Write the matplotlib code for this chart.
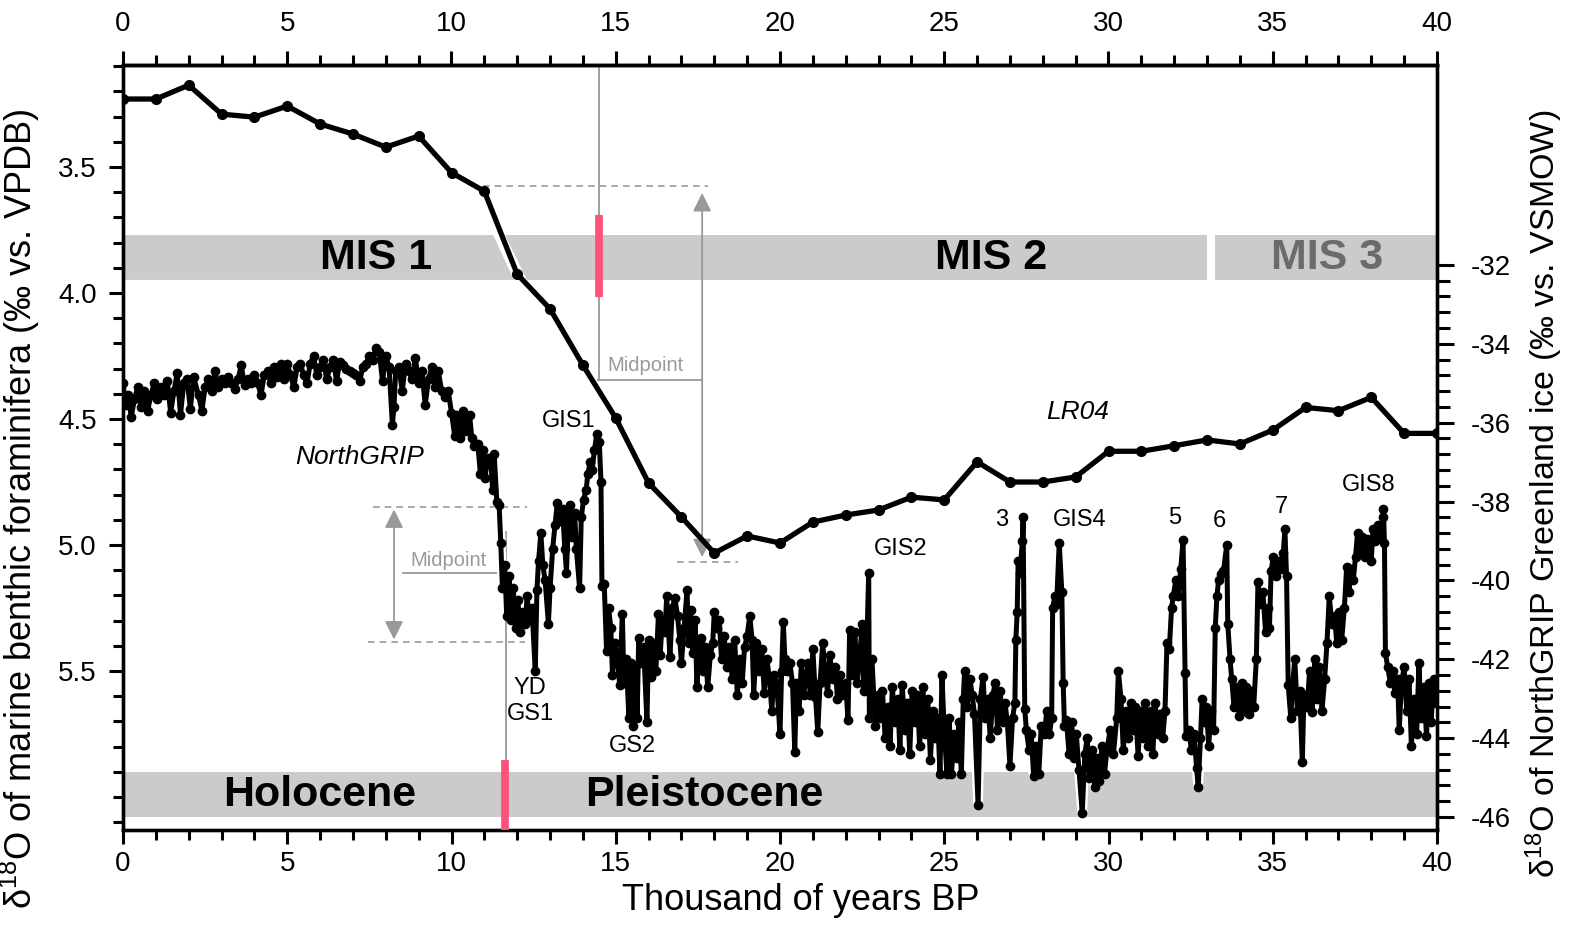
import numpy as np
import matplotlib
matplotlib.use("Agg")
import matplotlib.pyplot as plt
from matplotlib.ticker import FixedLocator
from matplotlib.patches import Polygon, Rectangle

plt.rcParams['font.family'] = ['Liberation Sans', 'DejaVu Sans']
plt.rcParams['mathtext.fontset'] = 'custom'
plt.rcParams['mathtext.rm'] = 'Liberation Sans'
plt.rcParams['mathtext.it'] = 'Liberation Sans:italic'

# ---------------- data ----------------
lr04_age = list(range(0, 41))
lr04_d18o = [3.230, 3.230, 3.175, 3.290, 3.302, 3.258, 3.329, 3.369, 3.421, 3.377,
             3.522, 3.596, 3.925, 4.063, 4.286, 4.496, 4.754, 4.889, 5.032, 4.964,
             4.992, 4.909, 4.881, 4.861, 4.810, 4.821, 4.670, 4.750, 4.750, 4.730,
             4.628, 4.628, 4.606, 4.583, 4.599, 4.544, 4.454, 4.467, 4.414, 4.557,
             4.557]

ngrip_age = [
    0.00, 0.08, 0.16, 0.25, 0.35, 0.45, 0.55, 0.65, 0.75, 0.85, 0.95, 1.05, 1.15, 1.25,
    1.35, 1.45, 1.55, 1.65, 1.75, 1.85, 1.95, 2.05, 2.15, 2.30, 2.40, 2.50, 2.60, 2.70,
    2.80, 2.90, 3.00, 3.10, 3.20, 3.30, 3.40, 3.50, 3.60, 3.70, 3.80, 3.90, 4.00, 4.10,
    4.20, 4.30, 4.40, 4.50, 4.60, 4.70, 4.80, 4.90, 5.00, 5.10, 5.20, 5.30, 5.40, 5.50,
    5.60, 5.70, 5.80, 5.90, 6.00, 6.10, 6.20, 6.30, 6.40, 6.50, 6.60, 6.70, 6.80, 6.90,
    7.00, 7.10, 7.20, 7.30, 7.40, 7.50, 7.60, 7.70, 7.80, 7.90, 8.00, 8.10, 8.20, 8.25,
    8.30, 8.40, 8.50, 8.60, 8.70, 8.80, 8.90, 9.00, 9.10, 9.20, 9.30, 9.40, 9.50, 9.60,
    9.70, 9.80, 9.90, 10.00, 10.10,
    10.15, 10.25, 10.35, 10.45, 10.55, 10.62, 10.70, 10.80, 10.88, 10.95, 11.02, 11.10,
    11.20, 11.25, 11.30, 11.38, 11.45, 11.50, 11.55, 11.62, 11.68, 11.75, 11.82, 11.88,
    11.95, 12.02, 12.10, 12.18, 12.25, 12.30, 12.38, 12.45, 12.55, 12.60, 12.65, 12.72,
    12.78, 12.85, 12.95, 13.00, 13.08, 13.15, 13.22, 13.30, 13.38, 13.45, 13.50, 13.56,
    13.62, 13.68, 13.75, 13.80, 13.90, 13.95, 14.02, 14.10, 14.15, 14.22, 14.28, 14.35,
    14.42, 14.50, 14.55, 14.58, 14.65, 14.72, 14.78, 14.85, 14.90, 14.98, 15.05, 15.12,
    15.20, 15.25, 15.32, 15.40, 15.45, 15.52, 15.60, 15.65, 15.70, 15.78, 15.85, 15.95,
    16.00, 16.08, 16.15, 16.22, 16.30, 16.35, 16.42, 16.50, 16.55, 16.60, 16.65, 16.72,
    16.80, 16.88, 16.95, 17.00, 17.08, 17.17, 17.22, 17.28, 17.35, 17.42, 17.47, 17.55,
    17.60, 17.65, 17.72, 17.80, 17.88, 17.95, 18.00, 18.08, 18.15, 18.22, 18.30, 18.38,
    18.45, 18.55, 18.62, 18.70, 18.78, 18.85, 18.92, 19.00, 19.08, 19.15, 19.20, 19.28,
    19.35, 19.45, 19.52, 19.60, 19.68, 19.75, 19.82, 19.90, 20.00, 20.05, 20.10, 20.15,
    20.22, 20.30, 20.38, 20.45, 20.50, 20.58, 20.65, 20.72, 20.80, 20.85, 20.92, 21.00,
    21.08, 21.15, 21.22, 21.30, 21.38, 21.45, 21.52, 21.60, 21.68, 21.75, 21.82, 21.90,
    22.00, 22.07, 22.12, 22.20, 22.28, 22.35, 22.42, 22.50, 22.55, 22.62, 22.70, 22.72,
    22.80, 22.90, 22.98, 23.05, 23.12, 23.20, 23.28, 23.35, 23.42, 23.50, 23.58, 23.65,
    23.72, 23.80, 23.88, 23.95, 24.02, 24.10, 24.18, 24.25, 24.35, 24.42, 24.50, 24.58,
    24.65, 24.72, 24.80, 24.87, 24.93, 25.00, 25.08, 25.15, 25.22, 25.30, 25.38, 25.45,
    25.52, 25.58, 25.62, 25.70, 25.78, 25.85, 25.92, 26.03, 26.10, 26.18, 26.25, 26.32,
    26.40, 26.48, 26.55, 26.62, 26.70, 26.78, 26.85, 26.92, 27.00, 27.08, 27.15, 27.18,
    27.22, 27.25, 27.30, 27.38, 27.40, 27.45, 27.50, 27.58, 27.65, 27.72, 27.80, 27.88,
    27.95, 28.05, 28.12, 28.20, 28.27, 28.30, 28.37, 28.42, 28.50, 28.58, 28.62, 28.66,
    28.72, 28.80, 28.88, 28.95, 29.02, 29.10, 29.20, 29.28, 29.35, 29.42, 29.50, 29.58,
    29.65, 29.72, 29.80, 29.88, 29.95, 30.05, 30.15, 30.25, 30.30, 30.38, 30.45, 30.52,
    30.60, 30.68, 30.75, 30.82, 30.90, 30.98, 31.05, 31.12, 31.20, 31.28, 31.35, 31.42,
    31.50, 31.58, 31.65, 31.72, 31.78, 31.85, 31.92, 31.97, 32.05, 32.12, 32.20, 32.27,
    32.33, 32.36, 32.45, 32.52, 32.60, 32.68, 32.73, 32.80, 32.85, 32.92, 32.98, 33.05,
    33.12, 33.20, 33.25, 33.30, 33.35, 33.42, 33.50, 33.60, 33.63, 33.70, 33.75, 33.82,
    33.90, 33.98, 34.05, 34.12, 34.20, 34.28, 34.35, 34.42, 34.50, 34.55, 34.62, 34.70,
    34.78, 34.85, 34.90, 34.95, 35.02, 35.10, 35.18, 35.25, 35.32, 35.37, 35.42, 35.47,
    35.55, 35.60, 35.67, 35.75, 35.82, 35.90, 35.95, 36.05, 36.12, 36.20, 36.28, 36.35,
    36.42, 36.50, 36.58, 36.65, 36.72, 36.80, 36.88, 36.95, 37.02, 37.10, 37.18, 37.25,
    37.32, 37.38, 37.45, 37.52, 37.58, 37.65, 37.72, 37.80, 37.88, 38.00, 38.05, 38.12,
    38.20, 38.28, 38.35, 38.37, 38.40, 38.43, 38.50, 38.58, 38.65, 38.72, 38.80, 38.85,
    38.92, 39.00, 39.08, 39.15, 39.22, 39.30, 39.38, 39.45, 39.52, 39.60, 39.68, 39.75,
    39.82, 39.90, 39.97]

ngrip_d18o = [
    -35.0, -35.55, -35.3, -35.85, -35.4, -35.1, -35.6, -35.2, -35.7, -35.3, -35.0, -35.4, -35.1, -35.3,
    -34.95, -35.75, -35.2, -34.75, -35.8, -35.0, -34.9, -35.65, -34.85, -35.3, -35.7, -35.1, -34.9, -35.2,
    -34.7, -35.1, -34.9, -35.0, -34.85, -35.0, -35.15, -34.9, -34.55, -35.05, -34.9, -35.0, -34.8, -35.0,
    -35.3, -34.8, -34.7, -35.0, -34.6, -34.85, -34.5, -34.9, -34.5, -34.8, -35.1, -34.6, -34.5, -34.8,
    -35.0, -34.5, -34.3, -34.8, -34.6, -34.4, -34.9, -34.6, -34.4, -34.95, -34.45, -34.55, -34.65, -34.7,
    -34.75, -34.8, -34.95, -34.6, -34.5, -34.3, -34.4, -34.1, -34.2, -34.95, -34.3, -34.6, -36.05, -35.6,
    -34.7, -34.6, -35.2, -34.5, -34.7, -34.9, -34.35, -35.0, -34.7, -35.55, -34.9, -34.6, -35.1, -34.7,
    -35.2, -35.35, -35.2, -35.75, -36.35,
    -35.8, -36.4, -35.7, -36.2, -35.8, -36.4, -36.6, -36.55, -37.3, -36.7, -37.4, -36.9,
    -37.0, -37.7, -36.8, -38.0, -38.1, -39.05, -40.2, -39.6, -40.9, -39.9, -41.0, -40.2,
    -41.2, -40.5, -41.3, -40.8, -41.1, -40.4, -41.0, -40.7, -42.3, -40.25, -39.5, -38.8,
    -39.6, -40.0, -41.1, -40.2, -39.2, -38.6, -38.05, -38.5, -38.2, -39.2, -39.8, -38.4,
    -38.1, -38.9, -38.3, -39.2, -40.2, -38.4, -37.95, -37.7, -37.3, -37.0, -37.2, -36.7,
    -36.3, -36.5, -37.5, -40.15, -40.1, -41.8, -40.7, -41.2, -42.4, -41.6, -42.0, -42.65,
    -40.85, -42.6, -42.0, -43.5, -42.1, -43.7, -42.2, -43.5, -41.45, -42.1, -41.7, -43.6,
    -41.5, -42.45, -41.6, -42.3, -40.85, -41.9, -41.0, -41.3, -40.4, -41.2, -41.95, -40.7,
    -40.45, -40.9, -41.5, -42.1, -41.2, -40.25, -41.6, -40.75, -41.85, -41.0, -42.7, -41.5,
    -41.45, -42.3, -41.7, -42.7, -41.9, -41.6, -40.8, -41.2, -41.0, -42.0, -41.4, -42.2,
    -41.7, -42.5, -41.5, -42.9, -42.0, -42.6, -41.7, -41.4, -40.9, -41.5, -42.9, -41.6,
    -42.3, -41.75, -42.85, -42.0, -42.5, -43.3, -42.4, -42.6, -43.9, -42.3, -41.05, -42.0,
    -42.3, -42.1, -42.6, -44.35, -42.6, -43.3, -42.1, -42.9, -42.4, -42.1, -42.9, -41.75,
    -42.95, -43.85, -42.6, -41.6, -42.4, -42.85, -41.9, -42.5, -42.2, -43.0, -42.4, -42.9,
    -42.6, -43.55, -41.25, -42.4, -41.3, -42.6, -42.0, -41.1, -42.8, -42.4, -39.8, -43.5,
    -42.0, -43.7, -42.9, -43.5, -42.8, -44.0, -43.2, -44.2, -42.7, -43.6, -43.0, -44.3,
    -42.65, -43.8, -43.1, -44.4, -42.8, -43.6, -42.9, -44.2, -42.7, -43.9, -43.0, -44.55,
    -43.3, -44.0, -43.5, -44.9, -42.4, -43.8, -44.9, -43.5, -44.9, -43.9, -44.5, -43.6,
    -44.9, -43.0, -42.3, -43.2, -42.5, -42.9, -43.4, -45.7, -43.0, -42.45, -43.5, -43.0,
    -44.0, -42.9, -42.6, -43.8, -42.8, -43.6, -43.1, -43.6, -44.7, -43.5, -43.1, -41.5,
    -40.8, -39.5, -39.8, -39.0, -38.4, -43.25, -43.8, -44.3, -43.9, -44.95, -44.2, -44.9,
    -43.7, -43.9, -43.3, -43.9, -43.5, -40.7, -40.4, -40.6, -39.05, -40.3, -42.6, -43.7,
    -43.55, -44.4, -43.6, -44.5, -43.9, -44.8, -45.9, -44.4, -44.0, -45.0, -44.3, -45.25,
    -44.5, -45.1, -44.2, -44.9, -44.3, -43.8, -44.4, -43.5, -42.3, -43.0, -44.3, -43.3,
    -44.0, -43.1, -43.8, -43.2, -44.45, -43.3, -44.0, -43.1, -44.2, -43.3, -44.4, -43.1,
    -43.9, -43.4, -44.0, -43.3, -41.6, -41.75, -40.7, -40.4, -40.0, -40.4, -39.7, -38.97,
    -42.35, -43.95, -43.8, -44.3, -43.9, -44.75, -45.25, -44.0, -43.0, -43.6, -43.2, -44.2,
    -43.3, -43.8, -41.2, -40.4, -40.0, -39.85, -39.75, -39.1, -41.1, -42.0, -42.5, -43.2,
    -42.7, -43.45, -42.6, -43.3, -42.7, -43.4, -42.8, -43.2, -42.0, -40.05, -40.6, -40.3,
    -41.3, -40.7, -41.2, -39.75, -39.4, -39.9, -39.5, -39.7, -39.3, -38.7, -39.9, -42.65,
    -43.5, -42.7, -42.0, -43.3, -42.8, -44.6, -42.9, -43.2, -42.3, -43.35, -42.0, -43.0,
    -42.2, -43.3, -42.5, -41.6, -40.4, -41.1, -40.9, -41.6, -40.8, -41.5, -40.7, -39.65,
    -40.3, -39.7, -40.0, -39.4, -38.8, -39.3, -38.9, -39.4, -38.95, -39.5, -38.7, -39.0,
    -38.6, -38.9, -38.4, -38.2, -39.05, -41.85, -42.2, -42.6, -42.3, -42.85, -42.5, -43.8,
    -42.6, -42.2, -43.3, -42.5, -44.2, -43.0, -43.9, -42.1, -43.5, -42.7, -43.95, -42.6,
    -43.6, -42.5, -43.1]

ngrip_labels = ["GIS1", "YD", "GS1", "GS2", "GIS2", "3", "GIS4", "5", "6", "7", "GIS8"]
ngrip_label_age = [13.58, 12.39, 12.39, 15.5, 23.68, 26.76, 29.13, 32.02, 33.39, 35.25, 37.93]
ngrip_label_val = [-35.96, -42.73, -43.39, -44.2, -39.2, -38.47, -38.47, -38.42, -38.5, -38.14, -37.58]

mis_labels = ["MIS 1", "MIS 2", "MIS 3"]
epoch_labels = ["Holocene", "Pleistocene"]
x_ticks = [0, 5, 10, 15, 20, 25, 30, 35, 40]
left_ticks = [3.5, 4.0, 4.5, 5.0, 5.5]
right_ticks = [-32, -34, -36, -38, -40, -42, -44, -46]

# ---------------- figure ----------------
GRAY = '#cbcbcb'
LGRAY = '#999999'
PINK = '#ff4f7b'

fig = plt.figure(figsize=(15.71, 9.30), dpi=100)
ax = fig.add_axes([123/1571, 1-830/930, (1437-123)/1571, (830-65)/930])
ax2 = ax.twinx()

ax.set_xlim(0, 40)
ax.set_ylim(6.131, 3.095)
ax2.set_ylim(-46.33, -26.93)

# MIS band (left-axis units)
mt, mb = 3.770, 3.948
ax.add_patch(Polygon([(0, mt), (11.27, mt), (11.90, mb), (0, mb)], closed=True,
                     facecolor=GRAY, edgecolor='none', zorder=1))
ax.add_patch(Polygon([(11.64, mt), (33.0, mt), (33.0, mb), (12.29, mb)], closed=True,
                     facecolor=GRAY, edgecolor='none', zorder=1))
ax.add_patch(Rectangle((33.24, mt), 40 - 33.24, mb - mt, facecolor=GRAY,
                       edgecolor='none', zorder=1))
ax.text(7.7, 3.862, mis_labels[0], fontsize=31, fontweight='bold', ha='center', va='center', zorder=2)
ax.text(26.42, 3.862, mis_labels[1], fontsize=31, fontweight='bold', ha='center', va='center', zorder=2)
ax.text(36.65, 3.862, mis_labels[2], fontsize=31, fontweight='bold', ha='center', va='center',
        color='#6b6b6b', zorder=2)

# Epoch band
et, eb = 5.901, 6.079
ax.add_patch(Rectangle((0, et), 11.63, eb - et, facecolor=GRAY, edgecolor='none', zorder=1))
ax.add_patch(Rectangle((11.63, et), 40 - 11.63, eb - et, facecolor=GRAY, edgecolor='none', zorder=1))
ax.text(6.0, 5.992, epoch_labels[0], fontsize=31, fontweight='bold', ha='center', va='center', zorder=2)
ax.text(17.7, 5.992, epoch_labels[1], fontsize=31, fontweight='bold', ha='center', va='center', zorder=2)

# Upper midpoint construction (LR04 units)
ax.plot([14.49, 14.49], [3.095, 4.345], color=LGRAY, lw=1.3, zorder=2)
ax.plot([14.45, 17.63], [4.345, 4.345], color=LGRAY, lw=1.3, zorder=2)
ax.plot([10.96, 17.81], [3.575, 3.575], color=LGRAY, lw=1.2, ls=(0, (4, 3)), zorder=2)
ax.plot([16.86, 18.72], [5.067, 5.067], color=LGRAY, lw=1.2, ls=(0, (4, 3)), zorder=2)
ax.annotate('', xy=(17.63, 3.603), xytext=(17.63, 5.048),
            arrowprops=dict(arrowstyle='<|-|>', color=LGRAY, lw=1.3, mutation_scale=28,
                            shrinkA=0, shrinkB=0), zorder=2)
ax.text(14.75, 4.325, 'Midpoint', fontsize=14.5, color=LGRAY, ha='left', va='bottom', zorder=2)
ax.plot([14.49, 14.49], [3.690, 4.016], color=PINK, lw=5.5, solid_capstyle='butt', zorder=5)

# LR04
ax.plot(lr04_age, lr04_d18o, color='black', lw=3.8, marker='o', ms=7, zorder=4)
ax.text(29.07, 4.472, 'LR04', fontsize=19, style='italic', ha='center', va='center')

# Lower midpoint construction (NGRIP units)
ax2.plot([11.65, 11.65], [-38.77, -46.33], color=LGRAY, lw=1.3, zorder=1)
ax2.plot([8.52, 11.38], [-39.81, -39.81], color=LGRAY, lw=1.3, zorder=1)
ax2.plot([7.61, 12.29], [-38.14, -38.14], color=LGRAY, lw=1.2, ls=(0, (4, 3)), zorder=1)
ax2.plot([7.46, 12.24], [-41.56, -41.56], color=LGRAY, lw=1.2, ls=(0, (4, 3)), zorder=1)
ax2.annotate('', xy=(8.25, -38.2), xytext=(8.25, -41.5),
             arrowprops=dict(arrowstyle='<|-|>', color=LGRAY, lw=1.3, mutation_scale=28,
                             shrinkA=0, shrinkB=0), zorder=1)
ax2.text(8.75, -39.73, 'Midpoint', fontsize=14.5, color=LGRAY, ha='left', va='bottom')

# NGRIP: white halo underneath, then the black line with dots
ax2.plot(ngrip_age, ngrip_d18o, color='white', lw=7, zorder=2, solid_joinstyle='round')
ax2.plot(ngrip_age, ngrip_d18o, color='black', lw=3.6, marker='o', ms=6, zorder=3)
for lab, xa, ya in zip(ngrip_labels, ngrip_label_age, ngrip_label_val):
    ax2.text(xa, ya, lab, fontsize=17, ha='center', va='center', zorder=4)
ax2.text(7.21, -36.87, 'NorthGRIP', fontsize=19, style='italic', ha='center', va='center')
ax2.plot([11.63, 11.63], [-44.55, -46.33], color=PINK, lw=5.5, solid_capstyle='butt', zorder=5)

# ---------------- axes styling ----------------
for a in (ax, ax2):
    for s in a.spines.values():
        s.set_linewidth(2.4)

ax.xaxis.set_major_locator(FixedLocator(x_ticks))
ax.xaxis.set_minor_locator(FixedLocator(list(range(0, 41))))
ax.tick_params(axis='x', which='major', direction='out', length=10, width=2.2,
               labelsize=20, pad=5, top=False)
ax.tick_params(axis='x', which='minor', direction='out', length=7, width=2.2, top=False)

secx = ax.secondary_xaxis('top')
secx.xaxis.set_major_locator(FixedLocator(x_ticks))
secx.xaxis.set_minor_locator(FixedLocator(list(range(0, 41))))
secx.tick_params(axis='x', which='major', direction='out', length=10, width=2.2,
                 labelsize=20, pad=10)
secx.tick_params(axis='x', which='minor', direction='out', length=7, width=2.2)
secx.spines['top'].set_linewidth(2.4)

ax.yaxis.set_major_locator(FixedLocator(left_ticks))
ax.yaxis.set_minor_locator(FixedLocator([round(3.1 + 0.1 * i, 1) for i in range(31)]))
ax.yaxis.set_major_formatter(matplotlib.ticker.FormatStrFormatter('%.1f'))
ax.tick_params(axis='y', which='major', direction='out', length=10, width=2.2,
               labelsize=20, pad=9)
ax.tick_params(axis='y', which='minor', direction='out', length=7, width=2.2)

ax2.yaxis.set_major_locator(FixedLocator(right_ticks))
ax2.yaxis.set_minor_locator(FixedLocator([round(-46 + 0.4 * i, 1) for i in range(36)]))
ax2.yaxis.set_major_formatter(matplotlib.ticker.FuncFormatter(lambda v, p: '%d' % v))
ax2.tick_params(axis='y', which='major', direction='out', length=12, width=2.2,
                labelsize=20, pad=12)
ax2.tick_params(axis='y', which='minor', direction='out', length=9, width=2.2)

ax.set_xlabel('Thousand of years BP', fontsize=26)
ax.xaxis.set_label_coords(0.516, -0.069)
ax.set_ylabel(r'$\mathregular{\delta^{18}}$O of marine benthic foraminifera (‰ vs. VPDB)', fontsize=26)
ax.yaxis.set_label_coords(-0.062, 0.42)
ax2.set_ylabel(r'$\mathregular{\delta^{18}}$O of NorthGRIP Greenland ice (‰ vs. VSMOW)', fontsize=24.5)
ax2.yaxis.set_label_coords(1.066, 0.44)

fig.savefig('out.png', dpi=100)
